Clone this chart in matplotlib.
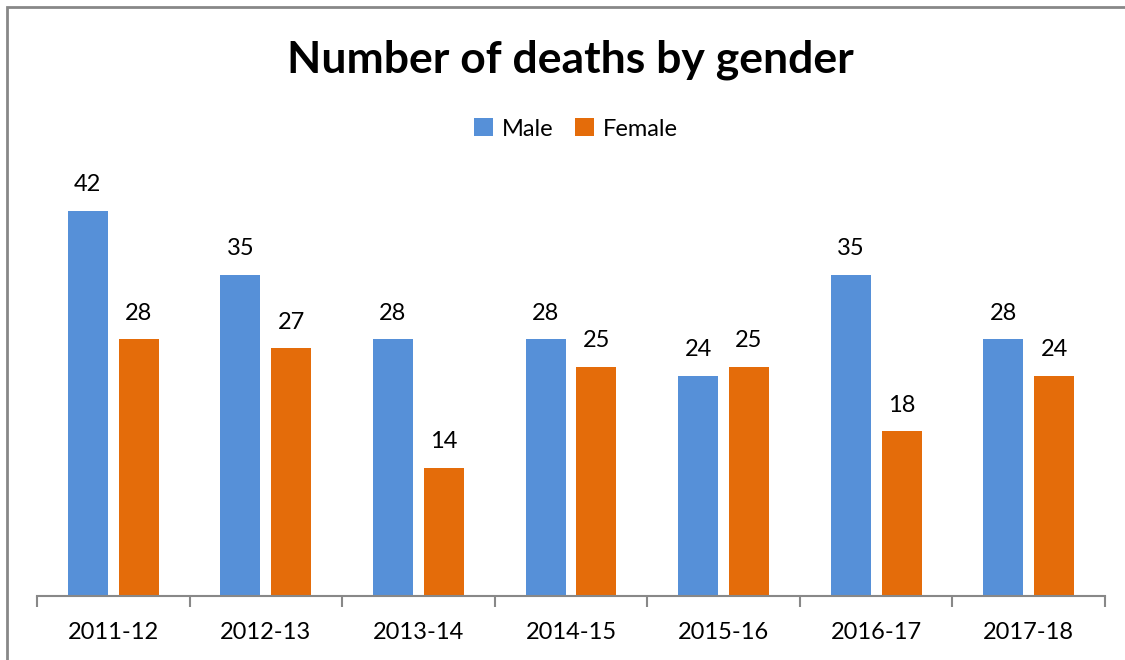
import matplotlib.pyplot as plt
import numpy as np
from matplotlib.patches import Rectangle

# Données du graphique
annees = ['2011-12', '2012-13', '2013-14', '2014-15', '2015-16', '2016-17', '2017-18']
hommes = [42, 35, 28, 28, 24, 35, 28]
femmes = [28, 27, 14, 25, 25, 18, 24]

plt.rcParams['font.family'] = ['Lato', 'DejaVu Sans']

fig = plt.figure(figsize=(11.25, 6.6), dpi=100)
ax = fig.add_axes([37 / 1125, 1 - 596 / 660, (1105 - 37) / 1125, (596 - 183) / 660])

x = np.arange(len(annees))
largeur = 0.262
b1 = ax.bar(x - 0.167, hommes, largeur, color='#5690D8', label='Male')
b2 = ax.bar(x + 0.167, femmes, largeur, color='#E46C0A', label='Female')

for barres in (b1, b2):
    ax.bar_label(barres, padding=11, fontsize=17, color='black')

ax.set_xlim(-0.5, len(annees) - 0.5)
ax.set_ylim(0, 45)
ax.set_yticks([])
for s in ('top', 'right', 'left'):
    ax.spines[s].set_visible(False)
ax.spines['bottom'].set_color('#888888')
ax.spines['bottom'].set_linewidth(1.5)

# ticks aux limites des catégories
ax.set_xticks(np.arange(-0.5, len(annees)), minor=False)
ax.set_xticklabels([])
ax.tick_params(axis='x', which='major', length=8, width=1.5, color='#888888')
ax.set_xticks(x, minor=True)
ax.set_xticklabels(annees, minor=True, fontsize=17, color='black')
ax.tick_params(axis='x', which='minor', length=0, pad=19)

fig.text(0.507, 1 - 60 / 660, 'Number of deaths by gender', ha='center', va='center',
         fontsize=32, fontweight='bold', color='black')
fig.legend(loc='center', bbox_to_anchor=(0.512, 1 - 129 / 660), ncol=2, frameon=False,
           fontsize=17, handlelength=0.8, handleheight=0.8, columnspacing=0.9, handletextpad=0.4)

# cadre du graphique
fig.patches.append(Rectangle((7 / 1125, -0.1), 1.1, 1.1 - 6.7 / 660, transform=fig.transFigure,
                             fill=False, edgecolor='#888888', linewidth=2))

fig.savefig('out.png', dpi=100)
